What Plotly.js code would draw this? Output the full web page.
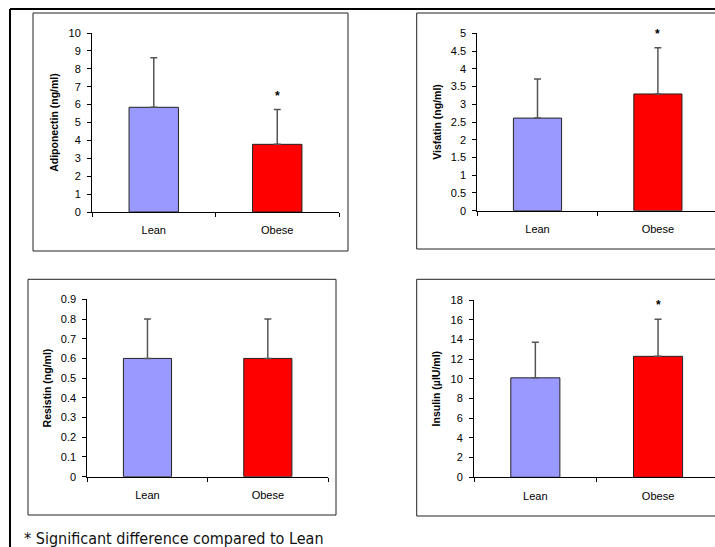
<!DOCTYPE html>
<html>
<head>
<meta charset="utf-8">
<script src="https://cdn.plot.ly/plotly-3.0.1.min.js"></script>
<style>html,body{margin:0;padding:0;background:#fff;}#chart{width:715px;height:547px;}</style>
</head>
<body>
<div id="chart"></div>
<script>
const groups = ['Lean', 'Obese'];
const adiponectin = [5.85, 3.78];
const adiponectinSD = [2.77, 1.94];
const visfatin = [2.61, 3.29];
const visfatinSD = [1.10, 1.30];
const resistin = [0.60, 0.60];
const resistinSD = [0.20, 0.20];
const insulin = [10.1, 12.28];
const insulinSD = [3.6, 3.76];
const panelTitles = ['Adiponectin (ng/ml)', 'Visfatin (ng/ml)', 'Resistin (ng/ml)', 'Insulin (µIU/ml)'];
const panelSig = [[false, true], [false, true], [false, false], [false, true]];
const footnote = '* Significant difference compared to Lean';

const W = 715, H = 547;
const px = v => v / W;
const py = v => 1 - v / H;

const colors = ['#9999FF', '#FF0000'];
const values = [adiponectin, visfatin, resistin, insulin];
const sds = [adiponectinSD, visfatinSD, resistinSD, insulinSD];

const geo = [
  {x0: 92, x1: 339, y0: 33, y1: 212, range: [0, 10], dtick: 1, xr: [-0.5, 1.5]},
  {x0: 477.3, x1: 715, y0: 33.3, y1: 210.7, range: [0, 5], dtick: 0.5, xr: [-0.5, -0.5 + (715 - 477.3) / 120.4]},
  {x0: 87.3, x1: 328, y0: 299.3, y1: 476.7, range: [0, 0.9], dtick: 0.1, xr: [-0.5, 1.5]},
  {x0: 474, x1: 715, y0: 300, y1: 477.3, range: [0, 18], dtick: 2, xr: [-0.5, -0.5 + (715 - 474) / 122.7]}
];
const boxes = [
  {x0: 33, y0: 13, x1: 348, y1: 251},
  {x0: 416.7, y0: 13, x1: 730, y1: 249},
  {x0: 28, y0: 279.3, x1: 336, y1: 515},
  {x0: 416.7, y0: 279.3, x1: 730, y1: 516}
];

const tickFont = {family: 'Liberation Sans, Arial, sans-serif', size: 11, color: '#000'};
const titleFont = {family: 'Liberation Sans, Arial, sans-serif', size: 10.5, color: '#000', weight: 'bold'};

const traces = [];
const layout = {
  width: W, height: H,
  margin: {l: 0, r: 0, t: 0, b: 0},
  paper_bgcolor: '#fff', plot_bgcolor: 'rgba(0,0,0,0)',
  showlegend: false,
  shapes: [],
  annotations: []
};

for (let i = 0; i < 4; i++) {
  const n = i === 0 ? '' : String(i + 1);
  const g = geo[i];
  traces.push({
    type: 'bar',
    x: groups,
    y: values[i],
    xaxis: 'x' + n, yaxis: 'y' + n,
    width: 0.40,
    marker: {color: colors, line: {color: '#222', width: 1}},
    error_y: {type: 'data', array: sds[i], symmetric: false, arrayminus: [0, 0],
              color: '#555', thickness: 1.5, width: 3.5},
    hoverinfo: 'none'
  });
  layout['xaxis' + n] = {
    domain: [px(g.x0), px(g.x1)],
    anchor: 'y' + n,
    type: 'category',
    range: g.xr,
    showline: true, linecolor: '#000', linewidth: 1,
    ticks: 'outside', tickson: 'boundaries', ticklen: 4, tickcolor: '#000',
    ticklabelstandoff: 8,
    tickfont: tickFont,
    showgrid: false, zeroline: false, fixedrange: true
  };
  layout['yaxis' + n] = {
    domain: [py(g.y1), py(g.y0)],
    anchor: 'x' + n,
    range: g.range,
    dtick: g.dtick,
    showline: true, linecolor: '#000', linewidth: 1,
    ticks: 'outside', ticklen: 4, tickcolor: '#000',
    ticklabelstandoff: 4,
    tickfont: tickFont,
    showgrid: false, zeroline: false,
    title: {text: panelTitles[i], font: titleFont, standoff: 7},
    fixedrange: true
  };
  const b = boxes[i];
  layout.shapes.push({type: 'rect', xref: 'paper', yref: 'paper',
    x0: px(b.x0), x1: px(b.x1), y0: py(b.y1), y1: py(b.y0),
    line: {color: '#222', width: 1}});
  for (let k = 0; k < 2; k++) {
    if (panelSig[i][k]) {
      layout.annotations.push({
        xref: 'x' + n, yref: 'y' + n,
        x: groups[k], y: values[i][k] + sds[i][k],
        text: '<b>*</b>', showarrow: false,
        yanchor: 'bottom', yshift: 5,
        font: {family: 'Liberation Sans, Arial, sans-serif', size: 12, color: '#000'}
      });
    }
  }
}

layout.shapes.push({type: 'line', xref: 'paper', yref: 'paper',
  x0: px(10), x1: px(740), y0: py(9), y1: py(9), line: {color: '#000', width: 2}});
layout.shapes.push({type: 'line', xref: 'paper', yref: 'paper',
  x0: px(10), x1: px(10), y0: py(9), y1: py(570), line: {color: '#000', width: 2}});

layout.annotations.push({
  xref: 'paper', yref: 'paper', x: px(22), y: py(538),
  xanchor: 'left', yanchor: 'middle', showarrow: false,
  text: footnote,
  font: {family: 'DejaVu Sans Condensed, DejaVu Sans, sans-serif', size: 16, color: '#111'}
});

Plotly.newPlot('chart', traces, layout, {staticPlot: true, displayModeBar: false});
</script>
</body>
</html>
